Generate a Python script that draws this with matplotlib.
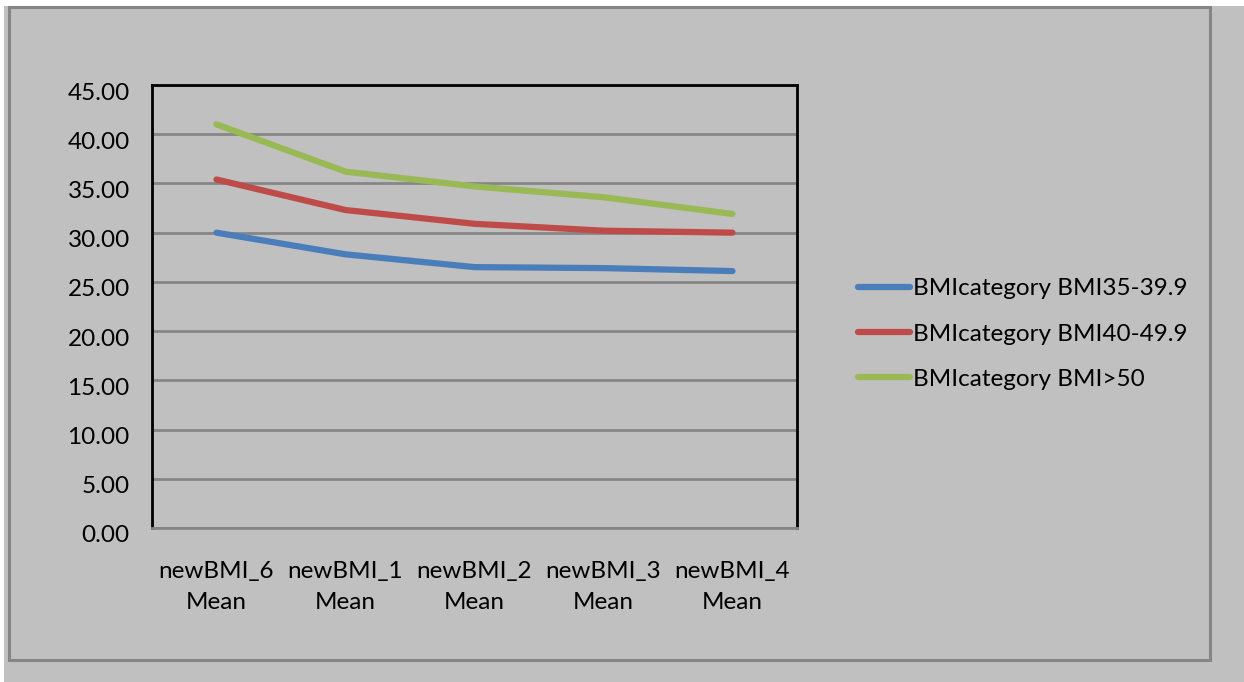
import numpy as np
import matplotlib.pyplot as plt
from matplotlib.patches import Rectangle
from matplotlib.transforms import ScaledTranslation

plt.rcParams['font.family'] = ['Lato', 'DejaVu Sans']

categories = ["newBMI_6\nMean", "newBMI_1\nMean", "newBMI_2\nMean", "newBMI_3\nMean", "newBMI_4\nMean"]
bmi_35 = [30.0, 27.8, 26.5, 26.4, 26.1]
bmi_40 = [35.4, 32.3, 30.9, 30.2, 30.0]
bmi_50 = [41.0, 36.2, 34.7, 33.6, 31.9]
labels = ["BMIcategory BMI35-39.9", "BMIcategory BMI40-49.9", "BMIcategory BMI>50"]
colors = ["#4a7ebb", "#be4b48", "#98b954"]

W, H = 1244, 682
bg = "#c0c0c0"
fig = plt.figure(figsize=(W / 100, H / 100), dpi=100, facecolor=bg)

# white strips at top and left, outer frame
fig.patches.append(Rectangle((0, 1 - 6 / H), 1, 6 / H, transform=fig.transFigure,
                             facecolor="white", edgecolor="none", zorder=0))
fig.patches.append(Rectangle((0, 0), 4 / W, 1, transform=fig.transFigure,
                             facecolor="white", edgecolor="none", zorder=0))
fig.patches.append(Rectangle((9 / W, 1 - 660 / H), 1201 / W, 653 / H, transform=fig.transFigure,
                             facecolor="none", edgecolor="#858585", lw=2.2, zorder=1))

ax = fig.add_axes([152 / W, 1 - 528 / H, 645 / W, 443 / H])
ax.set_facecolor(bg)

x = np.arange(len(categories))
for vals, lab, c in zip([bmi_35, bmi_40, bmi_50], labels, colors):
    ax.plot(x, vals, color=c, lw=4.5, solid_capstyle="round", label=lab, zorder=3)

ax.set_xlim(-0.5, len(categories) - 0.5)
ax.set_ylim(0, 45)
ax.set_yticks(np.arange(0, 46, 5))
ax.set_yticklabels([f"{v:.2f}" for v in np.arange(0, 46, 5)])
ax.set_xticks(x)
ax.set_xticklabels(categories, linespacing=1.55)
ax.tick_params(axis="both", length=0, labelsize=17.5)
ax.tick_params(axis="y", pad=16)
ax.tick_params(axis="x", pad=24)
ax.yaxis.grid(True, color="#868686", lw=2)
ax.set_axisbelow(True)
for s in ["top", "right", "left"]:
    ax.spines[s].set_color("black")
    ax.spines[s].set_linewidth(2)
ax.spines["bottom"].set_color("#868686")
ax.spines["bottom"].set_linewidth(2)

# y labels sit a little below their gridlines
shift = ScaledTranslation(0, -6 / 100, fig.dpi_scale_trans)
for t in ax.get_yticklabels():
    t.set_transform(t.get_transform() + shift)

fig.legend(loc="center left", bbox_to_anchor=(858 / W, 1 - 334 / H), frameon=False,
           fontsize=17.5, handlelength=2.15, handletextpad=0.1, labelspacing=1.0,
           borderaxespad=0, borderpad=0)

fig.savefig("out.png", dpi=100, facecolor=bg)
